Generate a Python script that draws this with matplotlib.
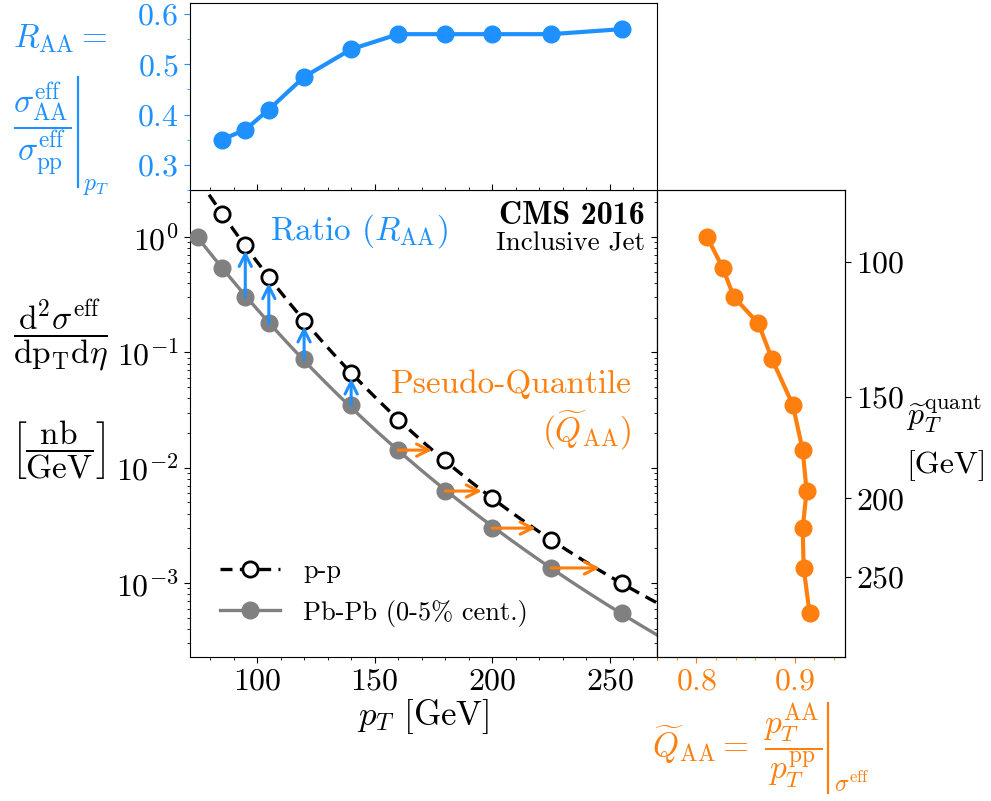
import numpy as np
import matplotlib
matplotlib.use("Agg")
import matplotlib.pyplot as plt
from matplotlib.lines import Line2D
from matplotlib.ticker import (FixedLocator, FixedFormatter, MultipleLocator,
                               NullLocator)

plt.rcParams.update({
    "font.family": "cmr10",
    "mathtext.fontset": "cm",
    "axes.formatter.use_mathtext": True,
    "axes.unicode_minus": False,
    "xtick.major.size": 4.5,
    "ytick.major.size": 4.5,
    "xtick.minor.size": 2.5,
    "ytick.minor.size": 2.5,
})

# ---- data ----
pt_aa = [75, 85, 95, 105, 120, 140, 160, 180, 200, 225, 255]
xsec_aa = [1.0, 0.535, 0.303, 0.178, 0.087, 0.0349, 0.0142, 0.00627,
           0.00299, 0.00135, 0.000548]
pt_pp = [85, 95, 105, 120, 140, 160, 180, 200, 225, 255]
xsec_pp = [1.6, 0.85, 0.447, 0.188, 0.0665, 0.0259, 0.0116, 0.00542,
           0.00236, 0.000993]
r_aa = [0.35, 0.37, 0.41, 0.475, 0.53, 0.56, 0.56, 0.56, 0.56, 0.57]
q_aa = [0.811, 0.827, 0.838, 0.863, 0.877, 0.898, 0.908, 0.912, 0.908,
        0.909, 0.915]
ratio_arrow_pt = [95, 105, 120, 140]
quantile_arrow_pt = [160, 180, 200, 225]
quant_ticks = [100, 150, 200, 250]

BLUE = "#1E90FF"
ORANGE = "#FF7F0E"
GREY = "#808080"
W, H = 991, 801


def loglog_fit(x, y, deg=3):
    c = np.polyfit(np.log(x), np.log(y), deg)
    return lambda t: np.exp(np.polyval(c, np.log(np.asarray(t, float))))


def fx(px):
    return px / W


def fy(py):
    return 1 - py / H


spec_pp = loglog_fit(pt_pp, xsec_pp)
spec_aa = loglog_fit(pt_aa, xsec_aa)

fig = plt.figure(figsize=(W / 100, H / 100), dpi=100)
L, R, B, T = fx(190), fx(657), fy(657), fy(190)
RR, TT = fx(845), fy(3)
ax = fig.add_axes([L, B, R - L, T - B])
ax_top = fig.add_axes([L, T, R - L, TT - T], sharex=ax)
ax_r = fig.add_axes([R, B, RR - R, T - B], sharey=ax)

# ---- main spectra panel ----
ax.set_yscale("log")
ax.set_xlim(71.5, 270)
ax.set_ylim(2.28e-4, 2.56)
grid = np.linspace(75, 280, 400)
dash = (0, (3.6, 2.2))
ax.plot(grid, spec_pp(grid), color="black", lw=2.4, ls=dash, zorder=3)
ax.plot(grid, spec_aa(grid), color=GREY, lw=2.4, zorder=2)
ax.plot(pt_pp, xsec_pp, "o", ms=11, mfc="white", mec="black", mew=2, zorder=4)
ax.plot(pt_aa, xsec_aa, "o", ms=12, color=GREY, zorder=4)

for p in ratio_arrow_pt:
    y0 = xsec_aa[pt_aa.index(p)]
    y1 = xsec_pp[pt_pp.index(p)]
    ax.annotate("", xy=(p, y1), xytext=(p, y0),
                arrowprops=dict(arrowstyle="->", color=BLUE, lw=2.2,
                                shrinkA=0, shrinkB=4, mutation_scale=22),
                zorder=5)
for p in quantile_arrow_pt:
    i = pt_aa.index(p)
    ax.annotate("", xy=(p / q_aa[i], xsec_aa[i]), xytext=(p, xsec_aa[i]),
                arrowprops=dict(arrowstyle="->", color=ORANGE, lw=2.2,
                                shrinkA=0, shrinkB=3, mutation_scale=22),
                zorder=5)

ax.xaxis.set_major_locator(MultipleLocator(50))
ax.xaxis.set_minor_locator(MultipleLocator(10))
ax.tick_params(axis="both", which="both", labelsize=23)
ax.tick_params(axis="x", which="both", top=True, direction="out")
ax.set_xlabel(r"$p_T$ [GeV]", fontsize=25, labelpad=1)

ax.text(0.171, 0.912, r"Ratio ($R_{\rm AA}$)", transform=ax.transAxes,
        color=BLUE, fontsize=24, ha="left", va="center")
ax.text(0.974, 0.945, "CMS 2016", transform=ax.transAxes, fontsize=23,
        family="cmb10", ha="right", va="center")
ax.text(0.974, 0.885, "Inclusive Jet", transform=ax.transAxes, fontsize=19.5,
        ha="right", va="center")
ax.text(0.946, 0.585, "Pseudo-Quantile", transform=ax.transAxes,
        color=ORANGE, fontsize=24, ha="right", va="center")
ax.text(0.946, 0.485, r"($\widetilde{Q}_{\rm AA}$)", transform=ax.transAxes,
        color=ORANGE, fontsize=24, ha="right", va="center")

handles = [
    Line2D([], [], color="black", lw=2.4, ls=dash, marker="o",
           ms=11, mfc="white", mec="black", mew=2),
    Line2D([], [], color=GREY, lw=2.4, marker="o", ms=12),
]
ax.legend(handles, ["p-p", "Pb-Pb (0-5% cent.)"], loc="lower left",
          frameon=False, fontsize=19, handlelength=2.26, handletextpad=0.87,
          borderaxespad=0.75, labelspacing=0.62)

# ---- R_AA panel ----
ax_top.plot(pt_pp, r_aa, "-o", color=BLUE, lw=3, ms=12)
ax_top.set_ylim(0.25, 0.622)
ax_top.yaxis.set_major_locator(MultipleLocator(0.1))
ax_top.yaxis.set_minor_locator(MultipleLocator(0.05))
ax_top.tick_params(axis="y", which="both", colors=BLUE, labelsize=23)
ax_top.tick_params(axis="x", which="both", direction="in", labelbottom=False)

# ---- quantile panel ----
ax_r.plot(q_aa, xsec_aa, "-o", color=ORANGE, lw=3, ms=12)
ax_r.set_xlim(0.76, 0.951)
ax_r.xaxis.set_major_locator(MultipleLocator(0.1))
ax_r.xaxis.set_minor_locator(MultipleLocator(0.02))
ax_r.tick_params(axis="x", which="both", colors=ORANGE, labelsize=23)
ax_r.tick_params(axis="y", which="both", labelleft=False)

ax_q = ax_r.twinx()
ax_q.set_yscale("log")
ax_q.set_ylim(ax.get_ylim())
ax_q.yaxis.set_major_locator(FixedLocator(spec_pp(quant_ticks)))
ax_q.yaxis.set_major_formatter(FixedFormatter([str(v) for v in quant_ticks]))
ax_q.yaxis.set_minor_locator(NullLocator())
ax_q.tick_params(axis="y", labelsize=23)


def eval_bar(x, y0, y1, color):
    fig.add_artist(Line2D([fx(x), fx(x)], [fy(y0), fy(y1)], color=color,
                          lw=1.6, transform=fig.transFigure))


# R_AA definition
fig.text(fx(60), fy(39), r"$R_{\rm AA} =$", color=BLUE, fontsize=24,
         ha="center", va="center")
fig.text(fx(42), fy(129),
         r"$\dfrac{\sigma^{\rm eff}_{\rm AA}}{\sigma^{\rm eff}_{\rm pp}}$",
         color=BLUE, fontsize=24, ha="center", va="center")
eval_bar(78, 77, 187, BLUE)
fig.text(fx(83), fy(186), r"$p_T$", color=BLUE, fontsize=17,
         ha="left", va="center")

# spectrum axis title
fig.text(fx(60), fy(336),
         r"$\dfrac{{\rm d}^2\sigma^{\rm eff}}{{\rm dp_T d}\eta}$",
         fontsize=24, ha="center", va="center")
fig.text(fx(58), fy(450), r"$\left[\dfrac{\rm nb}{\rm GeV}\right]$",
         fontsize=24, ha="center", va="center")

# quantile axis title
fig.text(fx(906), fy(414), r"$\widetilde{p}_T^{\rm quant}$", fontsize=23,
         ha="left", va="center")
fig.text(fx(906), fy(466), "[GeV]", fontsize=23, ha="left", va="center")

# Q_AA definition
fig.text(fx(652), fy(745), r"$\widetilde{Q}_{\rm AA} =$", color=ORANGE,
         fontsize=24, ha="left", va="center")
fig.text(fx(793), fy(746), r"$\dfrac{p_T^{\rm AA}}{p_T^{\rm pp}}$",
         color=ORANGE, fontsize=24, ha="center", va="center")
eval_bar(828, 703, 793, ORANGE)
fig.text(fx(834), fy(784), r"$\sigma^{\rm eff}$", color=ORANGE, fontsize=17,
         ha="left", va="center")

fig.savefig("out.png", dpi=100)
